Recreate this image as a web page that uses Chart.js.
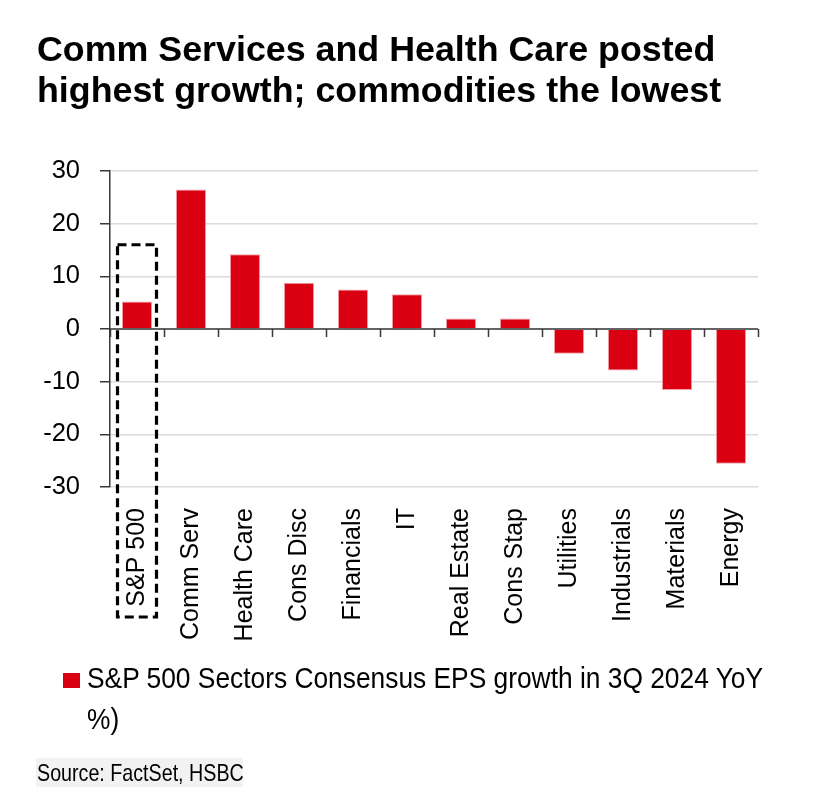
<!DOCTYPE html>
<html>
<head>
<meta charset="utf-8">
<script src="https://cdn.jsdelivr.net/npm/chart.js@4/dist/chart.umd.min.js"></script>
<style>
  html, body { margin: 0; padding: 0; background: #fff; }
  body { width: 828px; height: 810px; position: relative; overflow: hidden; }
  #title { position: absolute; left: 37px; top: 29px; font: bold 35.8px "Liberation Sans", Arial, sans-serif; line-height: 41px; color: #000; white-space: nowrap; }
  #chartWrap { position: absolute; left: 0; top: 0; width: 828px; height: 810px; }
  #legend { position: absolute; left: 63px; top: 657px; width: 720px; }
  #legend .sw { position: absolute; left: 0; top: 16px; width: 17px; height: 15px; }
  #legend .tx { position: absolute; left: 24px; top: 0; width: 850px; font: 30px "Liberation Sans", Arial, sans-serif; line-height: 41px; color: #000; transform: scaleX(0.878); transform-origin: 0 0; }
  #source { position: absolute; left: 36px; top: 758px; width: 207px; height: 29px; background: #f2f2f2; }
  #source span { position: absolute; left: 1px; top: 0; font: 24px "Liberation Sans", Arial, sans-serif; line-height: 29px; color: #000; white-space: nowrap; transform: scaleX(0.82); transform-origin: 0 0; }
</style>
</head>
<body>
<div id="chartWrap"><canvas id="c" width="828" height="810"></canvas></div>
<div id="title">Comm Services and Health Care posted<br>highest growth; commodities the lowest</div>
<div id="legend"></div>
<div id="source"><span>Source: FactSet, HSBC</span></div>
<script>
// ---- data ----
const categories = ["S&P 500", "Comm Serv", "Health Care", "Cons Disc", "Financials", "IT", "Real Estate", "Cons Stap", "Utilities", "Industrials", "Materials", "Energy"];
const epsGrowth = [5.2, 26.5, 14.2, 8.8, 7.5, 6.6, 2.0, 2.0, -4.7, -7.9, -11.6, -25.6];
const seriesLabel = "S&P 500 Sectors Consensus EPS growth in 3Q 2024 YoY %)";
const yTicks = [-30, -20, -10, 0, 10, 20, 30];
const highlightTop = 16; // value where the dashed box around S&P 500 starts

const RED = "#DB0011";
const FONT = '"Liberation Sans", Arial, sans-serif';

// zero line with category tick marks + dashed highlight box
const overlay = {
  id: "overlay",
  afterDatasetsDraw(chart) {
    const { ctx, scales: { x, y }, chartArea } = chart;
    const y0 = y.getPixelForValue(0);
    ctx.save();
    ctx.strokeStyle = "#3a3a3a";
    ctx.lineWidth = 1.5;
    ctx.beginPath();
    ctx.moveTo(chartArea.left, y0);
    ctx.lineTo(chartArea.right, y0);
    const n = categories.length;
    const step = x.getPixelForValue(1) - x.getPixelForValue(0);
    for (let i = 0; i <= n; i++) {
      const px = i < n ? x.getPixelForValue(i) - step / 2 : chartArea.right;
      const xx = Math.round(px) + 0.5;
      ctx.moveTo(xx, y0);
      ctx.lineTo(xx, y0 + 8);
    }
    ctx.stroke();
    // dashed box around first category
    const cx = x.getPixelForValue(0);
    const top = y.getPixelForValue(highlightTop);
    const bottom = chartArea.bottom + 130;
    ctx.strokeStyle = "#000";
    ctx.lineWidth = 3.2;
    ctx.setLineDash([9, 5]);
    ctx.strokeRect(cx - 19.5, top, 39, bottom - top);
    ctx.restore();
  }
};

new Chart(document.getElementById("c"), {
  type: "bar",
  data: {
    labels: categories,
    datasets: [{
      label: seriesLabel,
      data: epsGrowth,
      backgroundColor: RED,
      borderColor: "#f2a3aa",
      borderWidth: 1,
      barPercentage: 0.56,
      categoryPercentage: 1.0
    }]
  },
  options: {
    responsive: false,
    devicePixelRatio: 1,
    animation: false,
    layout: { padding: { top: 171, right: 70, left: 0, bottom: 0 } },
    plugins: { legend: { display: false }, tooltip: { enabled: false } },
    scales: {
      x: {
        grid: { display: false, drawTicks: false },
        border: { display: false },
        ticks: {
          color: "#000",
          font: { family: FONT, size: 25 },
          minRotation: 90, maxRotation: 90,
          padding: 21,
          autoSkip: false
        },
        afterFit(scale) { scale.height = 323; }
      },
      y: {
        min: -30, max: 30,
        afterBuildTicks(scale) { scale.ticks = yTicks.map(v => ({ value: v })); },
        grid: { color: "#dcdcdc", lineWidth: 1.5, tickColor: "#3a3a3a", tickLength: 10, drawTicks: true },
        border: { color: "#3a3a3a", width: 1.5 },
        ticks: {
          color: "#000",
          font: { family: FONT, size: 25.5 },
          padding: 20,
          stepSize: 10
        },
        afterFit(scale) { scale.width = 110; }
      }
    }
  },
  plugins: [overlay]
});

// legend built from the dataset
const lg = document.getElementById("legend");
const safe = seriesLabel.replace("&", "&amp;").replace(" %)", "<br>%)");
lg.innerHTML = '<span class="sw" style="background:' + RED + '"></span><span class="tx">' + safe + '</span>';
</script>
</body>
</html>
